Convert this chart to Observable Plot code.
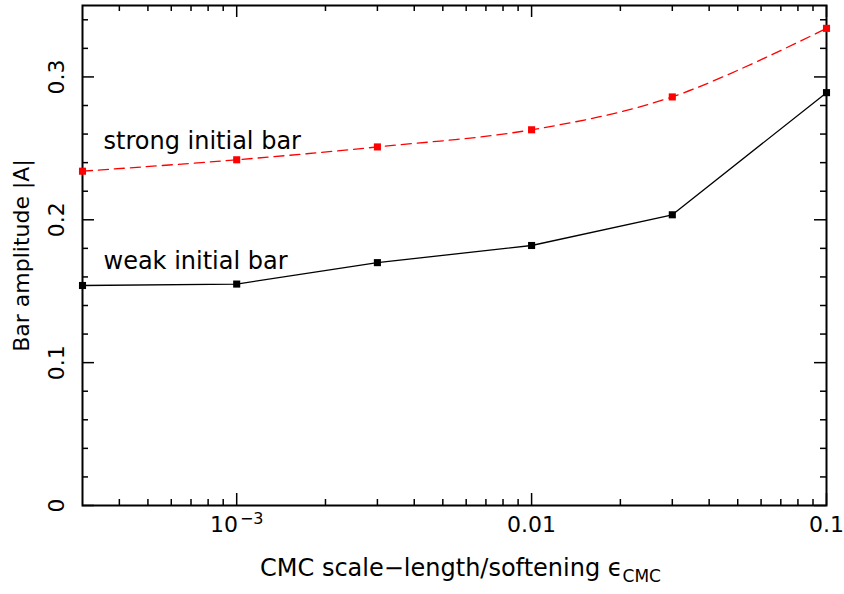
<!DOCTYPE html>
<html>
<head>
<meta charset="utf-8">
<script src="https://cdn.jsdelivr.net/npm/d3@7"></script>
<script src="https://cdn.jsdelivr.net/npm/@observablehq/plot@0.6"></script>
<style>
  html, body { margin: 0; padding: 0; background: #fff; }
  svg { font-family: "DejaVu Sans", sans-serif; }
</style>
</head>
<body>
<div id="chart"></div>
<script>
// ---- data ----
const eps = [3e-4, 1e-3, 3e-3, 1e-2, 3e-2, 1e-1];
const strongBar = [0.234, 0.242, 0.251, 0.263, 0.286, 0.334];
const weakBar   = [0.154, 0.155, 0.170, 0.182, 0.2035, 0.289];
const seriesLabels = ["strong initial bar", "weak initial bar"];

// ---- ticks ----
const xMajor = [1e-3, 1e-2, 1e-1];
const xMajorLabels = ["10−3", "0.01", "0.1"];
const xMinor = [4e-4, 5e-4, 6e-4, 7e-4, 8e-4, 9e-4,
                2e-3, 3e-3, 4e-3, 5e-3, 6e-3, 7e-3, 8e-3, 9e-3,
                2e-2, 3e-2, 4e-2, 5e-2, 6e-2, 7e-2, 8e-2, 9e-2];
const yMajor = [0, 0.1, 0.2, 0.3];
const yMajorLabels = ["0", "0.1", "0.2", "0.3"];
const yMinor = [0.02, 0.04, 0.06, 0.08, 0.12, 0.14, 0.16, 0.18,
                0.22, 0.24, 0.26, 0.28, 0.32, 0.34];

const strong = eps.map((x, i) => ({x, y: strongBar[i]}));
const weak = eps.map((x, i) => ({x, y: weakBar[i]}));

const W = 844, H = 594, mL = 82, mR = 18, mT = 5, mB = 89;
const fw = W - mL - mR, fh = H - mT - mB;
const majorLen = 12, minorLen = 6;
const FS = 24, TFS = 22;

const chart = Plot.plot({
  width: W, height: H,
  marginLeft: mL, marginRight: mR, marginTop: mT, marginBottom: mB,
  x: {type: "log", domain: [3e-4, 0.1], axis: null},
  y: {domain: [0, 0.35], axis: null},
  style: {fontFamily: "DejaVu Sans, sans-serif"},
  marks: [
    // ticks bottom/top
    Plot.ruleX(xMinor, {x: d => d, insetTop: fh - minorLen, stroke: "black", strokeWidth: 1.5}),
    Plot.ruleX(xMinor, {x: d => d, insetBottom: fh - minorLen, stroke: "black", strokeWidth: 1.5}),
    Plot.ruleX(xMajor, {x: d => d, insetTop: fh - majorLen, stroke: "black", strokeWidth: 1.5}),
    Plot.ruleX(xMajor, {x: d => d, insetBottom: fh - majorLen, stroke: "black", strokeWidth: 1.5}),
    // ticks left/right
    Plot.ruleY(yMinor, {y: d => d, insetRight: fw - minorLen, stroke: "black", strokeWidth: 1.5}),
    Plot.ruleY(yMinor, {y: d => d, insetLeft: fw - minorLen, stroke: "black", strokeWidth: 1.5}),
    Plot.ruleY(yMajor, {y: d => d, insetRight: fw - majorLen, stroke: "black", strokeWidth: 1.5}),
    Plot.ruleY(yMajor, {y: d => d, insetLeft: fw - majorLen, stroke: "black", strokeWidth: 1.5}),
    Plot.frame({stroke: "black", strokeWidth: 2}),
    // tick labels
    Plot.text(xMajor, {x: d => d, text: (d, i) => xMajorLabels[i], frameAnchor: "bottom",
      dy: 19, lineAnchor: "middle", fontSize: TFS, fill: "black"}),
    Plot.text(yMajor, {y: d => d, text: (d, i) => yMajorLabels[i], frameAnchor: "left",
      dx: -26, rotate: -90, textAnchor: "middle", lineAnchor: "middle", fontSize: TFS, fill: "black"}),
    // axis titles
    Plot.text(["CMC scale−length/softening ϵ"], {frameAnchor: "bottom", dy: 63, dx: 6,
      textAnchor: "middle", lineAnchor: "middle", fontSize: FS, fill: "black"}),
    Plot.text(["Bar amplitude |A|"], {frameAnchor: "left", dx: -61, rotate: -90,
      textAnchor: "middle", lineAnchor: "middle", fontSize: 22, fill: "black"}),
    // lines
    Plot.line(weak, {x: "x", y: "y", stroke: "black", strokeWidth: 1.3}),
    Plot.line(strong, {x: "x", y: "y", stroke: "#ff0000", strokeWidth: 1.3,
      strokeDasharray: "10,6", curve: "catmull-rom"}),
    Plot.dot(weak, {x: "x", y: "y", symbol: "square", r: 4, fill: "black"}),
    Plot.dot(strong, {x: "x", y: "y", symbol: "square", r: 4, fill: "#ff0000"}),
    // annotations, anchored at each series' first point
    Plot.text([strong[0]], {x: "x", y: "y", text: () => seriesLabels[0], dx: 21, dy: -22,
      textAnchor: "start", lineAnchor: "bottom", fontSize: FS, fill: "black"}),
    Plot.text([weak[0]], {x: "x", y: "y", text: () => seriesLabels[1], dx: 21, dy: -17,
      textAnchor: "start", lineAnchor: "bottom", fontSize: FS, fill: "black"})
  ]
});

document.getElementById("chart").appendChild(chart);

const svg = d3.select(chart);
svg.selectAll("text").each(function() {
  const el = d3.select(this);
  if (this.textContent === "10−3") {
    el.text(null);
    el.append("tspan").text("10");
    el.append("tspan").attr("dy", "-0.45em").attr("font-size", "16px").attr("dx", "2").text("−3");
  }
  if (this.textContent === "CMC scale−length/softening ϵ") {
    el.text(null);
    el.append("tspan").text("CMC scale−length/softening ϵ");
    el.append("tspan").attr("dy", "0.35em").attr("font-size", "17px").text("CMC");
  }
});
</script>
</body>
</html>
